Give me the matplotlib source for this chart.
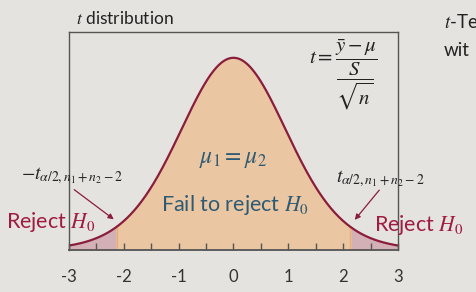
import math
import numpy as np
import matplotlib
matplotlib.use("Agg")
import matplotlib.pyplot as plt

# t-distribution parameters
df = 15
t_crit = 2.131
x_range = [-3, 3]
major_ticks = [-3, -2, -1, 0, 1, 2, 3]
minor_ticks = [-2.5, -1.5, -0.5, 0.5, 1.5, 2.5]

W, H = 477, 292
BG = "#e4e3e0"
CURVE = "#8a1d3b"
RED = "#a01c3f"
BLUE = "#2f5a74"


def t_pdf(x, v):
    c = math.gamma((v + 1) / 2) / (math.sqrt(v * math.pi) * math.gamma(v / 2))
    return c * (1 + x ** 2 / v) ** (-(v + 1) / 2)


def px(x, y):
    # pixel coords (from top left) to figure fraction
    return x / W, 1 - y / H


plt.rcParams['font.family'] = ['Lato', 'DejaVu Sans']
plt.rcParams['mathtext.fontset'] = 'stix'
plt.rcParams['axes.unicode_minus'] = False

fig = plt.figure(figsize=(W / 100, H / 100), dpi=100, facecolor=BG)
l, b = px(69, 250)
ax = fig.add_axes([l, b, (398 - 69) / W, (250 - 32) / H], facecolor=BG)

x = np.linspace(x_range[0], x_range[1], 600)
y = t_pdf(x, df)

mid = (x >= -t_crit) & (x <= t_crit)
ax.fill_between(x, 0, y, where=mid, color="#eac6a2", lw=0)
ax.fill_between(x, 0, y, where=x <= -t_crit, color="#d3afb6", lw=0)
ax.fill_between(x, 0, y, where=x >= t_crit, color="#d3afb6", lw=0)
for c in (-t_crit, t_crit):
    ax.plot([c, c], [0, t_pdf(c, df)], color="#f2ad6a", lw=1.0)
ax.plot(x, y, color=CURVE, lw=1.6)

ax.set_xlim(x_range)
ax.set_ylim(0, 0.445)
ax.set_yticks([])
ax.set_xticks(major_ticks)
ax.set_xticks(minor_ticks, minor=True)
ax.tick_params(axis='x', which='both', direction='in', length=5, width=1,
               color="#555555", pad=14, labelsize=12, labelcolor="#333333")
for s in ax.spines.values():
    s.set_color("#555555")
    s.set_linewidth(1.0)
ax.spines['bottom'].set_linewidth(1.3)

# titles and labels
fig.text(*px(76, 19), r"$t$ distribution", fontsize=12.5, color="#222222", va='center')
fig.text(*px(444, 22), r"$t$-Te", fontsize=13.5, color="#222222", va='center')
fig.text(*px(444, 50), "wit", fontsize=13.5, color="#222222", va='center')

fig.text(*px(343, 74), r"$t=\dfrac{\bar{y}-\mu}{\dfrac{S}{\sqrt{n}}}$",
         fontsize=15, color="#222222", ha='center', va='center')

fig.text(*px(233, 160), r"$\mu_1=\mu_2$", fontsize=17, color=BLUE, ha='center', va='center')
fig.text(*px(235, 205), r"Fail to reject $H_0$", fontsize=15.5, color=BLUE, ha='center', va='center')

fig.text(*px(6, 222), r"Reject $H_0$", fontsize=15.5, color=RED, ha='left', va='center')
fig.text(*px(374, 225), r"Reject $H_0$", fontsize=15.5, color=RED, ha='left', va='center')

fig.text(*px(72, 176), r"$-t_{\alpha/2,n_1+n_2-2}$", fontsize=14, color="#222222", ha='center', va='center')
fig.text(*px(380, 179), r"$t_{\alpha/2,n_1+n_2-2}$", fontsize=14, color="#222222", ha='center', va='center')

arrow = dict(arrowstyle="-|>", color=CURVE, lw=0.9, mutation_scale=8)
fig.add_artist(matplotlib.patches.FancyArrowPatch(px(72, 188), px(116, 221),
                                                  transform=fig.transFigure, **arrow))
fig.add_artist(matplotlib.patches.FancyArrowPatch(px(381, 188), px(353, 222),
                                                  transform=fig.transFigure, **arrow))

fig.savefig("out.png", dpi=100, facecolor=BG)
